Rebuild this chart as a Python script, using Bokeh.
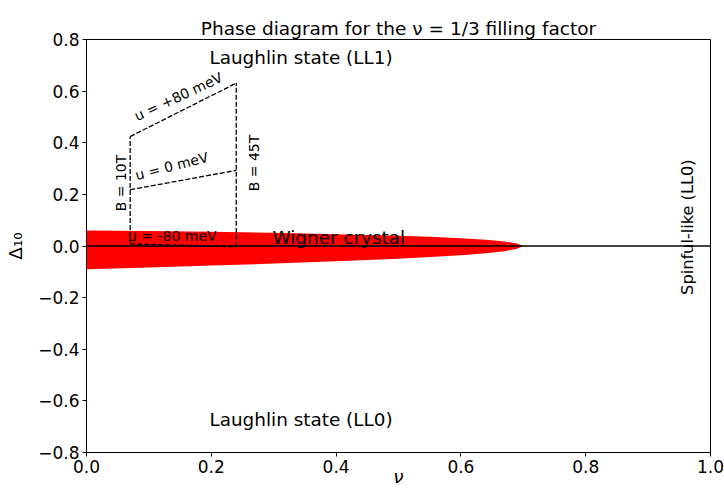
import math
from bokeh.plotting import figure
from bokeh.models import Range1d, FixedTicker, Label
from bokeh.embed import file_html
from bokeh.resources import INLINE

# ---- data ----
nu_ticks = [0.0, 0.2, 0.4, 0.6, 0.8, 1.0]
nu_tick_labels = ["0.0", "0.2", "0.4", "0.6", "0.8", "1.0"]
delta_ticks = [-0.8, -0.6, -0.4, -0.2, 0.0, 0.2, 0.4, 0.6, 0.8]
delta_tick_labels = ["\u22120.8", "\u22120.6", "\u22120.4", "\u22120.2", "0.0", "0.2", "0.4", "0.6", "0.8"]

# Wigner crystal region (upper / lower boundary)
wc_nu = [0.0, 0.1, 0.2, 0.3, 0.4, 0.5, 0.55, 0.6, 0.64, 0.67, 0.69, 0.70]
wc_upper = [0.060, 0.058, 0.055, 0.051, 0.046, 0.040, 0.036, 0.030, 0.024, 0.017, 0.010, 0.0]
wc_lower = [-0.090, -0.083, -0.076, -0.068, -0.059, -0.049, -0.043, -0.036, -0.028, -0.020, -0.011, 0.0]

# zero line
zero_nu = [0.0, 1.0]
zero_delta = [0.0, 0.0]

# field / displacement boundaries (dashed)
b10_nu = [0.07, 0.07]
b10_delta = [0.008, 0.424]
b45_nu = [0.24, 0.24]
b45_delta = [-0.003, 0.631]
up80_nu = [0.07, 0.24]
up80_delta = [0.424, 0.631]
u0_nu = [0.07, 0.24]
u0_delta = [0.218, 0.293]
um80_nu = [0.07, 0.24]
um80_delta = [0.008, -0.003]

FONT = "DejaVu Sans"

p = figure(width=724, height=492, output_backend="svg", toolbar_location=None,
           x_range=Range1d(0.0, 1.0), y_range=Range1d(-0.8, 0.8),
           min_border_left=86, min_border_right=14, min_border_top=39, min_border_bottom=40,
           title="Phase diagram for the \u03bd = 1/3 filling factor")
p.title.align = "center"
p.title.text_font = FONT
p.title.text_font_size = "18.5px"
p.title.text_font_style = "normal"
p.title.text_color = "black"
p.title.standoff = 1
p.xgrid.visible = False
p.ygrid.visible = False
p.outline_line_color = "black"
p.outline_line_width = 1
p.background_fill_color = "white"
p.border_fill_color = "white"

for ax, ticks, labels in ((p.xaxis[0], nu_ticks, nu_tick_labels), (p.yaxis[0], delta_ticks, delta_tick_labels)):
    ax.ticker = FixedTicker(ticks=ticks)
    ax.major_label_overrides = {t: l for t, l in zip(ticks, labels)}
    ax.axis_line_color = None
    ax.major_tick_line_color = "black"
    ax.major_tick_in = 0
    ax.major_tick_out = 4
    ax.minor_tick_line_color = None
    ax.major_label_text_font = FONT
    ax.major_label_text_font_size = "17px"
    ax.major_label_text_color = "black"
    ax.major_label_standoff = 3
    ax.axis_label_text_font = FONT
    ax.axis_label_text_font_size = "18.4px"
    ax.axis_label_text_color = "black"

p.yaxis[0].axis_label = "\u0394\u2081\u2080"
p.yaxis[0].axis_label_text_font_style = "normal"
p.yaxis[0].axis_label_standoff = 9
p.xaxis[0].axis_label = "\u03bd"
p.xaxis[0].axis_label_text_font_style = "italic"
p.xaxis[0].axis_label_standoff = -10

p.varea(x=wc_nu, y1=wc_lower, y2=wc_upper, fill_color="#ff0000")
p.line(zero_nu, zero_delta, line_color="black", line_width=1.3)

for xs, ys in ((b10_nu, b10_delta), (b45_nu, b45_delta), (up80_nu, up80_delta),
               (u0_nu, u0_delta), (um80_nu, um80_delta)):
    p.line(xs, ys, line_color="black", line_width=1.3, line_dash="5 2")


def lab(x, y, text, size, angle=0.0, align="left", baseline="alphabetic", style="normal"):
    p.add_layout(Label(x=x, y=y, text=text, angle=angle, text_align=align,
                       text_baseline=baseline, text_font=FONT, text_font_size=size,
                       text_color="black", text_font_style=style))


lab(0.197, 0.731, "Laughlin state (LL1)", "18.4px")
lab(0.197, -0.672, "Laughlin state (LL0)", "18.4px")
lab(0.298, 0.032, "Wigner crystal", "18.4px")
lab(0.9625, 0.073, "Spinful-like (LL0)", "16.2px", angle=math.pi / 2, align="center", baseline="middle")
lab(0.056, 0.244, "B = 10T", "14px", angle=math.pi / 2, align="center", baseline="middle")
lab(0.269, 0.3215, "B = 45T", "14px", angle=math.pi / 2, align="center", baseline="middle")
lab(0.078, 0.501, "u = +80 meV", "14px", angle=math.radians(25))
lab(0.0787, 0.2735, "u = 0 meV", "14px", angle=math.radians(14.5))
lab(0.0665, 0.038, "u = -80 meV", "14px")

open("out.html", "w").write(file_html(p, INLINE))
